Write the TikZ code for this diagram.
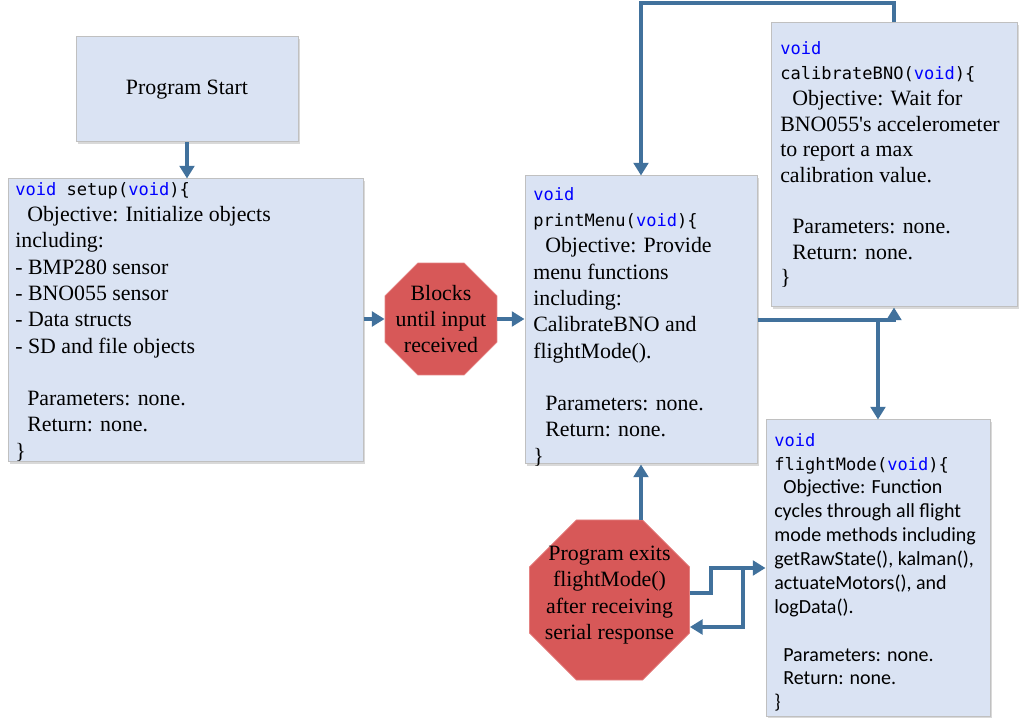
\documentclass[tikz,border=0pt]{standalone}
\usepackage{fontspec}
\setmainfont{Liberation Serif}
\setmonofont{DejaVu Sans Mono}
\newfontfamily\calfont{Carlito}
\usetikzlibrary{arrows.meta,shapes.geometric,fit,shadows}
\definecolor{boxfill}{RGB}{218,227,243}
\definecolor{boxline}{RGB}{192,192,192}
\definecolor{arrowc}{RGB}{65,113,156}
\definecolor{octfill}{RGB}{215,88,88}
\definecolor{octline}{RGB}{228,130,130}
\definecolor{kw}{RGB}{0,0,255}
\newcommand\kwv{\textcolor{kw}{void}}
\newcommand\mono{\ttfamily\fontsize{12.8pt}{19.7pt}\selectfont}
\newcommand\serifbig{\fontsize{16.4pt}{19.73pt}\selectfont}
\begin{document}
\begin{tikzpicture}[x=0.75pt,y=-0.75pt,
 box/.style={draw=boxline, line width=0.75pt, fill=boxfill, inner sep=0pt,
   drop shadow={shadow xshift=1.5pt, shadow yshift=-1.5pt, opacity=0.15, fill=black}},
 oct/.style={regular polygon, regular polygon sides=8, draw=octline, line width=0.6pt, fill=octfill, inner sep=0pt},
 txt/.style={inner sep=0pt, align=left, anchor=north west, font=\serifbig},
 octtxt/.style={inner sep=0pt, align=center, font=\serifbig},
 arr/.style={draw=arrowc, line width=3pt, -{Triangle[width=11pt,length=9.5pt]}}
]
\useasboundingbox (0,0) rectangle (1022,727);

% boxes
\node[box, fit={(76,37) (298,142)}] (start) {};
\node[box, fit={(8,179) (363,462)}] (setup) {};
\node[box, fit={(525,176) (757,464)}] (menu) {};
\node[box, fit={(771,23) (1017,307)}] (calib) {};
\node[box, fit={(766,420) (990,716)}] (fm) {};

% octagons
\node[oct, minimum size=90.9pt] (oct1) at (441,319) {};
\node[oct, minimum size=129.9pt] (oct2) at (609.5,600) {};

% texts
\node[octtxt] (starttxt) at (start) {Program Start};

\node[txt] (setuptxt) at (15,182) {%
{\mono\kwv{} setup(\kwv)\{}\\
\hspace*{9pt}Objective: Initialize objects\\
including:\\
- BMP280 sensor\\
- BNO055 sensor\\
- Data structs\\
- SD and file objects\\
\mbox{}\\
\hspace*{9pt}Parameters: none.\\
\hspace*{9pt}Return: none.\\
\}};

\node[txt] (menutxt) at (533,187) {%
{\mono\kwv}\\
{\mono printMenu(\kwv)\{}\\
\hspace*{9pt}Objective: Provide\\
menu functions\\
including:\\
CalibrateBNO and\\
flightMode().\\
\mbox{}\\
\hspace*{9pt}Parameters: none.\\
\hspace*{9pt}Return: none.\\
\}};

\node[txt, font=\fontsize{16.4pt}{19.2pt}\selectfont] (calibtxt) at (780,41) {%
{\mono\kwv}\\
{\mono calibrateBNO(\kwv)\{}\\
\hspace*{9pt}Objective: Wait for\\
BNO055\textquotesingle s accelerometer\\
to report a max\\
calibration value.\\
\mbox{}\\
\hspace*{9pt}Parameters: none.\\
\hspace*{9pt}Return: none.\\
\}};

\node[txt, font=\calfont\fontsize{15pt}{17.9pt}\selectfont] (fmtxt) at (774,433) {%
{\mono\kwv}\\
{\mono flightMode(\kwv)\{}\\
\hspace*{6.75pt}Objective: Function\\
cycles through all flight\\
mode methods including\\
getRawState(), kalman(),\\
actuateMotors(), and\\
logData().\\
\mbox{}\\
\hspace*{6.75pt}Parameters: none.\\
\hspace*{6.75pt}Return: none.\\
\}};

\node[octtxt] (oct1txt) at (oct1) {Blocks\\until input\\received};
\node[octtxt] (oct2txt) at ([yshift=3.75pt]oct2.center) {Program exits\\flightMode()\\after receiving\\serial response};

% helper coordinates
\coordinate (topy) at (0,3);
\coordinate (jn) at (743,568);

% connectors
\draw[arr] (start.south) -- (start.south |- setup.north);
\draw[arr] (setup.east |- oct1.west) -- (oct1.west);
\draw[arr] (oct1.east) -- (oct1.east -| menu.west);
\draw[arr] (calib.north) -- (calib.north |- topy) -| (menu.north);
\draw[arr] (menu.east) -| (calib.south);
\draw[arr] (menu.east -| fm.north) -- (fm.north);
\draw[arr] (oct2.north -| menu.south) -- (menu.south);
\draw[arr] ([yshift=5.25pt]oct2.east) -- ++(21,0) |- (fm.west |- jn);
\draw[arr] (jn) |- ([yshift=-20.25pt]oct2.east);
\end{tikzpicture}
\end{document}
